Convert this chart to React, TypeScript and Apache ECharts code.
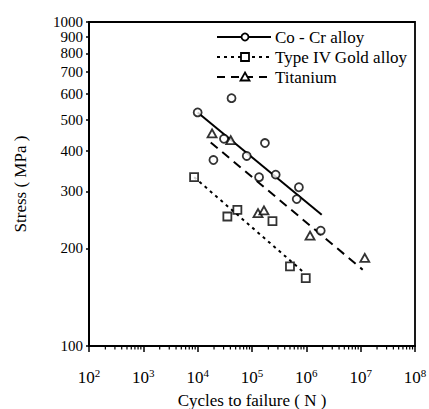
import React, { useEffect, useRef } from "react";
import * as echarts from "echarts";

// axis decoration values
const X_EXPONENTS = [2, 3, 4, 5, 6, 7, 8];
const Y_TICK_VALUES = [100, 200, 300, 400, 500, 600, 700, 800, 900, 1000];
const MINOR_MULTIPLIERS = [2, 3, 4, 5, 6, 7, 8, 9];

// Co-Cr alloy (cycles, stress MPa)
const CO_CR_CYCLES = [1.0e4, 4.2e4, 3.05e4, 1.95e4, 8.0e4, 1.73e5, 1.35e5, 2.73e5, 7.3e5, 6.65e5, 1.84e6];
const CO_CR_STRESS = [526, 582, 436, 375, 386, 423, 332, 338, 309, 284, 227];
const CO_CR_FIT_CYCLES = [1.0e4, 1.92e6];
const CO_CR_FIT_STRESS = [526, 254];

// Type IV Gold alloy
const GOLD_CYCLES = [8.6e3, 3.52e4, 5.38e4, 2.38e5, 5.0e5, 9.75e5];
const GOLD_STRESS = [332, 251, 263, 243, 176, 162];
const GOLD_FIT_CYCLES = [8.6e3, 8.9e5];
const GOLD_FIT_STRESS = [332, 169];

// Titanium
const TI_CYCLES = [1.84e4, 4.06e4, 1.29e5, 1.66e5, 1.17e6, 1.19e7];
const TI_STRESS = [453, 432, 257, 262, 219, 187];
const TI_FIT_CYCLES = [1.74e4, 1.09e7];
const TI_FIT_STRESS = [425, 172];

const LEGEND_LABELS = ["Co - Cr alloy", "Type IV Gold alloy", "Titanium"];

const FONT = "'Liberation Serif', 'Times New Roman', serif";

const toPairs = (xs: number[], ys: number[]) =>
  xs.map((x, i) => [Math.log10(x), Math.log10(ys[i])]);

export default function App() {
  const ref = useRef<HTMLDivElement>(null);

  useEffect(() => {
    if (!ref.current) return;
    const chart = echarts.init(ref.current, null, { renderer: "svg" });

    const minorTicks: number[][] = [];
    X_EXPONENTS.slice(0, -1).forEach((e) => {
      MINOR_MULTIPLIERS.forEach((m) => minorTicks.push([Math.log10(m * Math.pow(10, e)), 2]));
    });
    const yTicks = Y_TICK_VALUES.map((v) => Math.log10(v));
    const yTopValue = yTicks[yTicks.length - 1];
    const yLower = yTicks.slice(0, -1);
    // split labels over interleaved label-only axes so neighbours never clash
    const yOdd = yLower.filter((_, i) => i % 2 === 0);
    const yEven = yLower.filter((_, i) => i % 2 === 1);

    const legendY = [37, 57, 77];
    const lx0 = 217, lx1 = 271, lmx = 245, ltx = 275;
    const legendGraphics: any[] = [
      { type: "line", shape: { x1: lx0, y1: legendY[0], x2: lx1, y2: legendY[0] }, style: { stroke: "#000", lineWidth: 2 } },
      { type: "circle", shape: { cx: lmx, cy: legendY[0], r: 3.5 }, style: { fill: "#fff", stroke: "#000", lineWidth: 1.8 } },
      { type: "line", shape: { x1: lx0, y1: legendY[1], x2: lx1, y2: legendY[1] }, style: { stroke: "#000", lineWidth: 2, lineDash: [3, 4] } },
      { type: "rect", shape: { x: lmx - 4, y: legendY[1] - 4, width: 8, height: 8 }, style: { fill: "#fff", stroke: "#000", lineWidth: 1.8 } },
      { type: "line", shape: { x1: lx0, y1: legendY[2], x2: lx1, y2: legendY[2] }, style: { stroke: "#000", lineWidth: 2, lineDash: [8, 6] } },
      { type: "polygon", shape: { points: [[lmx, legendY[2] - 4.5], [lmx + 4.5, legendY[2] + 3.5], [lmx - 4.5, legendY[2] + 3.5]] }, style: { fill: "#fff", stroke: "#000", lineWidth: 1.8 } },
    ];
    LEGEND_LABELS.forEach((t, i) => {
      legendGraphics.push({
        type: "text",
        x: ltx,
        y: legendY[i],
        style: { text: t, fill: "#000", font: `17px ${FONT}`, verticalAlign: "middle", align: "left" },
      });
    });

    const scatterStyle = { color: "#fff", borderColor: "#000", borderWidth: 1.8 };
    const yLabelFmt = (v: number) => String(Math.round(Math.pow(10, v)));

    const labelAxis = (values: number[], extra: any = {}) => ({
      type: "value",
      min: 2,
      max: 3,
      position: "left",
      offset: 0,
      axisLine: { show: false },
      axisTick: { show: false },
      splitLine: { show: false },
      axisLabel: {
        customValues: values,
        hideOverlap: false,
        showMinLabel: true,
        showMaxLabel: true,
        margin: 6,
        color: "#000",
        fontSize: 15,
        lineHeight: 13,
        fontFamily: FONT,
        formatter: yLabelFmt,
        ...extra,
      },
    });

    chart.setOption({
      animation: false,
      backgroundColor: "#fff",
      grid: {
        left: 89, right: 14, top: 22, bottom: 63,
        outerBoundsMode: "none",
        containLabel: false,
        show: true, borderColor: "#000", borderWidth: 1.8, backgroundColor: "transparent",
      },
      xAxis: {
        type: "value",
        min: 2,
        max: 8,
        interval: 1,
        name: "Cycles to failure ( N )",
        nameLocation: "middle",
        nameGap: 46,
        nameTextStyle: { color: "#000", fontSize: 17, fontFamily: FONT },
        axisLine: { show: true, lineStyle: { color: "#000", width: 2 } },
        axisTick: { show: true, length: 6, lineStyle: { color: "#000", width: 1.5 } },
        splitLine: { show: false },
        axisLabel: {
          margin: 21,
          formatter: (v: number) => `{b|10}{s|${Math.round(v)}}`,
          rich: {
            b: { fontSize: 17, fontFamily: FONT, color: "#000", lineHeight: 20 },
            s: { fontSize: 11, fontFamily: FONT, color: "#000", verticalAlign: "top", lineHeight: 9 },
          },
        },
      },
      yAxis: [
        {
          type: "value",
          min: 2,
          max: 3,
          name: "Stress ( MPa )",
          nameLocation: "middle",
          nameGap: 60,
          nameRotate: 90,
          nameTextStyle: { color: "#000", fontSize: 17, fontFamily: FONT },
          axisLine: { show: true, lineStyle: { color: "#000", width: 2 } },
          axisTick: { show: true, length: 3, customValues: yTicks, lineStyle: { color: "#000", width: 1.5 } },
          splitLine: { show: false },
          axisLabel: { show: false },
        },
        labelAxis(yOdd),
        labelAxis(yEven),
        labelAxis([yTopValue], { padding: [0, 0, 10, 0] }),
      ],
      series: [
        {
          type: "custom",
          data: minorTicks,
          clip: false,
          silent: true,
          renderItem: (params: any, api: any) => {
            const p = api.coord([api.value(0), api.value(1)]);
            return {
              type: "line",
              shape: { x1: p[0], y1: p[1], x2: p[0], y2: p[1] + 3.5 },
              style: { stroke: "#000", lineWidth: 1.2 },
            };
          },
          z: 1,
        },
        { type: "line", data: toPairs(CO_CR_FIT_CYCLES, CO_CR_FIT_STRESS), symbol: "none", lineStyle: { color: "#000", width: 2 }, z: 2 },
        { type: "line", data: toPairs(GOLD_FIT_CYCLES, GOLD_FIT_STRESS), symbol: "none", lineStyle: { color: "#000", width: 2, type: [3, 4] }, z: 2 },
        { type: "line", data: toPairs(TI_FIT_CYCLES, TI_FIT_STRESS), symbol: "none", lineStyle: { color: "#000", width: 2, type: [9, 6] }, z: 2 },
        { type: "scatter", data: toPairs(CO_CR_CYCLES, CO_CR_STRESS), symbol: "circle", symbolSize: 8, itemStyle: scatterStyle, z: 3 },
        { type: "scatter", data: toPairs(GOLD_CYCLES, GOLD_STRESS), symbol: "rect", symbolSize: 8, itemStyle: scatterStyle, z: 3 },
        { type: "scatter", data: toPairs(TI_CYCLES, TI_STRESS), symbol: "triangle", symbolSize: [9, 8], itemStyle: scatterStyle, z: 3 },
      ],
      graphic: legendGraphics,
    });

    return () => chart.dispose();
  }, []);

  return <div ref={ref} style={{ position: "fixed", left: 0, top: 0, width: 429, height: 409 }} />;
}
